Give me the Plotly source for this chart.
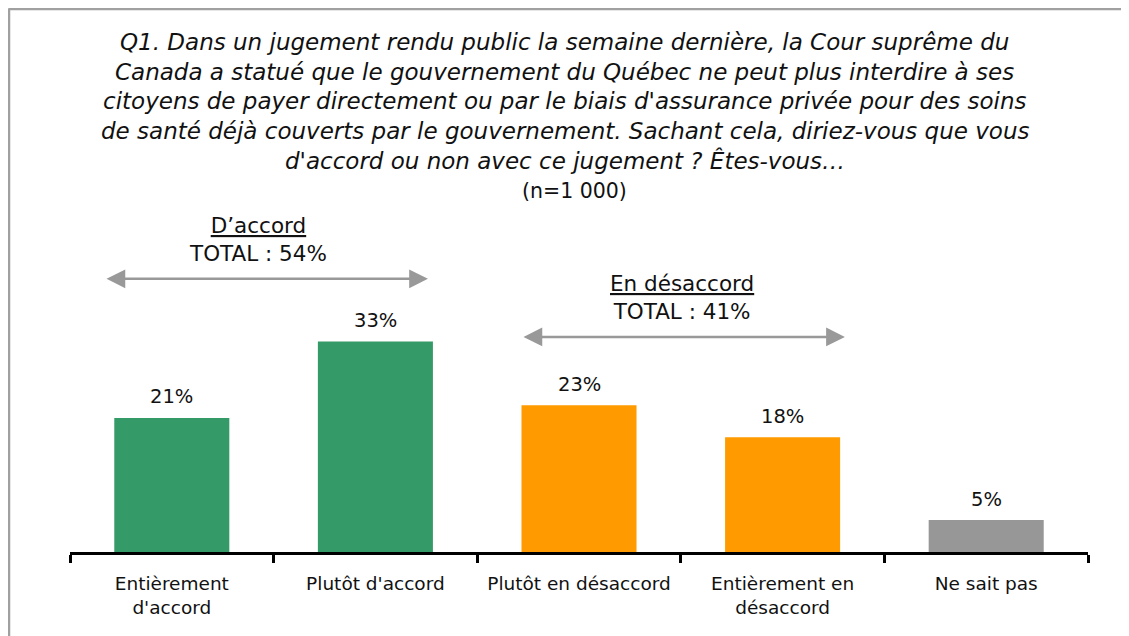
import plotly.graph_objects as go

# ---- data ----
categories = ["Entièrement<br>d'accord", "Plutôt d'accord", "Plutôt en désaccord",
              "Entièrement en<br>désaccord", "Ne sait pas"]
values = [21, 33, 23, 18, 5]
value_labels = ["21%", "33%", "23%", "18%", "5%"]
bar_colors = ["#349a68", "#349a68", "#ff9b00", "#ff9b00", "#979797"]

title_lines = [
    "Q1. Dans un jugement rendu public la semaine dernière, la Cour suprême du",
    "Canada a statué que le gouvernement du Québec ne peut plus interdire à ses",
    "citoyens de payer directement ou par le biais d'assurance privée pour des soins",
    "de santé déjà couverts par le gouvernement. Sachant cela, diriez-vous que vous",
    "d'accord ou non avec ce jugement ? Êtes-vous…",
]
sample_label = "(n=1 000)"

group_titles = ["D’accord", "En désaccord"]
group_totals = ["TOTAL : 54%", "TOTAL : 41%"]

# ---- layout geometry (reference pixel coords; page has an 8px body margin) ----
OFF = 8
W, H = 1129 - OFF, 636 - OFF
ML, MR, MT, MB = 70 - OFF, 41, 201 - OFF, 84
PW, PH = W - ML - MR, H - MT - MB
YMAX = 55

def px_x(px):
    return (px - OFF - ML) / PW

def px_y(py):
    return (H - MB - (py - OFF)) / PH

FONT = "DejaVu Sans"

fig = go.Figure()
fig.add_trace(go.Bar(
    x=categories, y=values,
    marker=dict(color=bar_colors, line=dict(width=0)),
    width=0.565,
    hoverinfo="skip",
))

annotations = []
title_y = [42, 72, 101, 131, 160]
for line, py in zip(title_lines, title_y):
    annotations.append(dict(
        text=f"<i>{line}</i>", x=px_x(1129 / 2), y=px_y(py), xref="paper", yref="paper",
        xanchor="center", yanchor="middle", showarrow=False,
        font=dict(family=FONT, size=23, color="#111111"),
    ))
annotations.append(dict(
    text=sample_label, x=px_x(574), y=px_y(191), xref="paper", yref="paper",
    xanchor="center", yanchor="middle", showarrow=False,
    font=dict(family=FONT, size=20.5, color="#111111"),
))

for c, v, t in zip(categories, values, value_labels):
    annotations.append(dict(
        text=t, x=c, y=v, xref="x", yref="y", yshift=21,
        xanchor="center", yanchor="middle", showarrow=False,
        font=dict(family=FONT, size=19.5, color="#111111"),
    ))

group_text_x = [0.423, 2.506]
group_text_y = [49.0, 39.9]
arrow_x0 = [-0.328, 1.72]
arrow_x1 = [1.258, 3.306]
arrow_y = [42.8, 33.7]
for gt, tot, tx, ty, x0, x1, ay in zip(group_titles, group_totals, group_text_x,
                                      group_text_y, arrow_x0, arrow_x1, arrow_y):
    annotations.append(dict(
        text=f"<u>{gt}</u><br>{tot}", x=tx, y=ty, xref="x", yref="y",
        xanchor="center", yanchor="middle", showarrow=False,
        font=dict(family=FONT, size=21.5, color="#111111"),
    ))
    annotations.append(dict(
        text="", x=x1, y=ay, ax=x0, ay=ay, xref="x", yref="y", axref="x", ayref="y",
        showarrow=True, arrowhead=2, arrowside="end+start", arrowsize=1.5,
        arrowwidth=2.5, arrowcolor="#999999", standoff=0, startstandoff=0,
    ))

shapes = [
    dict(type="line", xref="paper", yref="paper",
         x0=px_x(OFF + 0.5), x1=px_x(1129 + 5), y0=px_y(OFF + 1), y1=px_y(OFF + 1),
         line=dict(color="#a0a0a0", width=2.5)),
    dict(type="line", xref="paper", yref="paper",
         x0=px_x(OFF + 1), x1=px_x(OFF + 1), y0=px_y(OFF + 0.5), y1=px_y(636 + 5),
         line=dict(color="#a0a0a0", width=2.5)),
]

fig.update_layout(
    width=W, height=H,
    margin=dict(l=ML, r=MR, t=MT, b=MB, pad=0),
    paper_bgcolor="white", plot_bgcolor="white",
    showlegend=False,
    annotations=annotations,
    shapes=shapes,
    font=dict(family=FONT, color="#111111"),
    xaxis=dict(
        type="category", range=[-0.5, 4.5], showgrid=False, zeroline=False,
        showline=True, linecolor="black", linewidth=2.5,
        ticks="outside", tickson="boundaries", ticklen=8, tickwidth=2.5,
        tickcolor="black", tickfont=dict(family=FONT, size=18.5, color="#111111"),
        ticklabelstandoff=13, fixedrange=True,
    ),
    yaxis=dict(range=[0, YMAX], visible=False, fixedrange=True),
)

fig.write_html("out.html")
